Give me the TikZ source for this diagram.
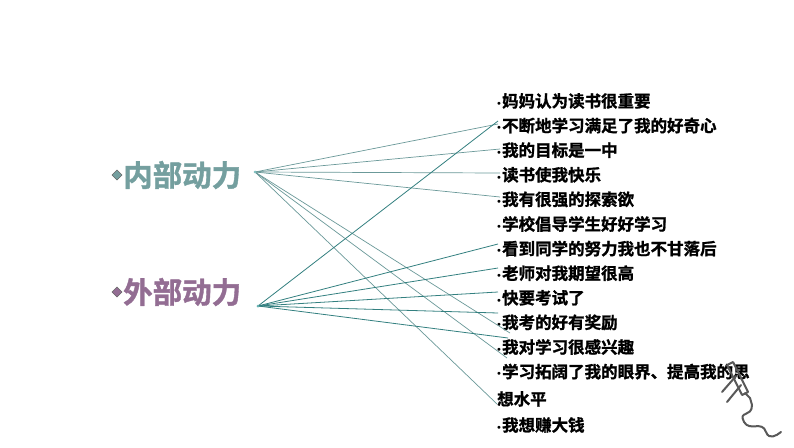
\documentclass[tikz,border=0pt]{standalone}
\usepackage{fontspec}
\newfontfamily\cjk[FakeBold=1.2]{Noto Sans CJK SC Bold}
\newfontfamily\lat{DejaVu Sans}
\newcommand\bul{{\lat\fontsize{10}{10}\selectfont •}}
\begin{document}
\begin{tikzpicture}[x=1pt,y=-1pt,
 item/.style={anchor=west,inner sep=0pt,font=\cjk\fontsize{16.5}{18}\selectfont},
 big/.style={anchor=west,inner sep=0pt,font=\cjk\fontsize{29.5}{30}\selectfont},
 lt/.style={draw=teal!45!gray!80,line width=0.7pt},
 dk/.style={draw=teal!75!black!80,line width=0.8pt}]
\useasboundingbox (0,0) rectangle (794,447);
\fill[white] (0,0) rectangle (794,447);
\colorlet{inc}{teal!45!gray!75}
\colorlet{outc}{violet!35!gray!85}
\foreach \t [count=\i] in {妈妈认为读书很重要,不断地学习满足了我的好奇心,我的目标是一中,读书使我快乐,我有很强的探索欲,学校倡导学生好好学习,看到同学的努力我也不甘落后,老师对我期望很高,快要考试了,我考的好有奖励,我对学习很感兴趣,学习拓阔了我的眼界、提高我的思}
  \node[item] (r\i) at (496,{101+24.6*(\i-1)}) {\bul\t};
\node[item] (r13) at (497,399) {想水平};
\node[item] (r14) at (496,425) {\bul 我想赚大钱};
\node[big,text=inc] (in) at (123,175) {内部动力};
\node[big,text=outc] (out) at (123,292) {外部动力};
\fill[inc,draw=black!60,line width=0.4pt] (117,170) -- (122,175) -- (117,180) -- (112,175) -- cycle;
\fill[outc,draw=black!60,line width=0.4pt] (117,287) -- (122,292) -- (117,297) -- (112,292) -- cycle;
\coordinate (a) at (255,172);
\coordinate (b) at (258,306);
\coordinate (e2) at (498,121);
\coordinate (e2b) at (498,124);
\coordinate (e3) at (500,149);
\coordinate (e4) at (500,173);
\coordinate (e5) at (500,197);
\coordinate (e7) at (498,244);
\coordinate (e8) at (498,268);
\coordinate (e9) at (498,292);
\coordinate (e10) at (498,313);
\coordinate (e11) at (508,338);
\coordinate (e11b) at (510,333);
\coordinate (e12) at (507,358);
\coordinate (e13) at (497,404);
\foreach \e in {e2b,e3,e4,e5,e11b,e12,e13} \draw[lt] (a) -- (\e);
\foreach \e in {e2,e7,e8,e9,e10,e11} \draw[dk] (b) -- (\e);
\fill[teal!50] (a) circle (1.5pt);
\fill[teal!60] (b) circle (1.5pt);
\begin{scope}[draw=black!65,line width=2pt,line cap=round,line join=round]
\draw (727,365) -- (733,362) -- (748,392) -- (742,395) -- cycle;
\draw (736,376) -- (722,392);
\draw (741,385) -- (727,402);
\draw (745,393) -- (750,398) -- (752,405);
\draw (752,405) .. controls (752,418) and (738,410) .. (744,422) .. controls (750,432) and (762,420) .. (766,432) .. controls (769,440) and (776,436) .. (781,432);
\end{scope}
\end{tikzpicture}
\end{document}
